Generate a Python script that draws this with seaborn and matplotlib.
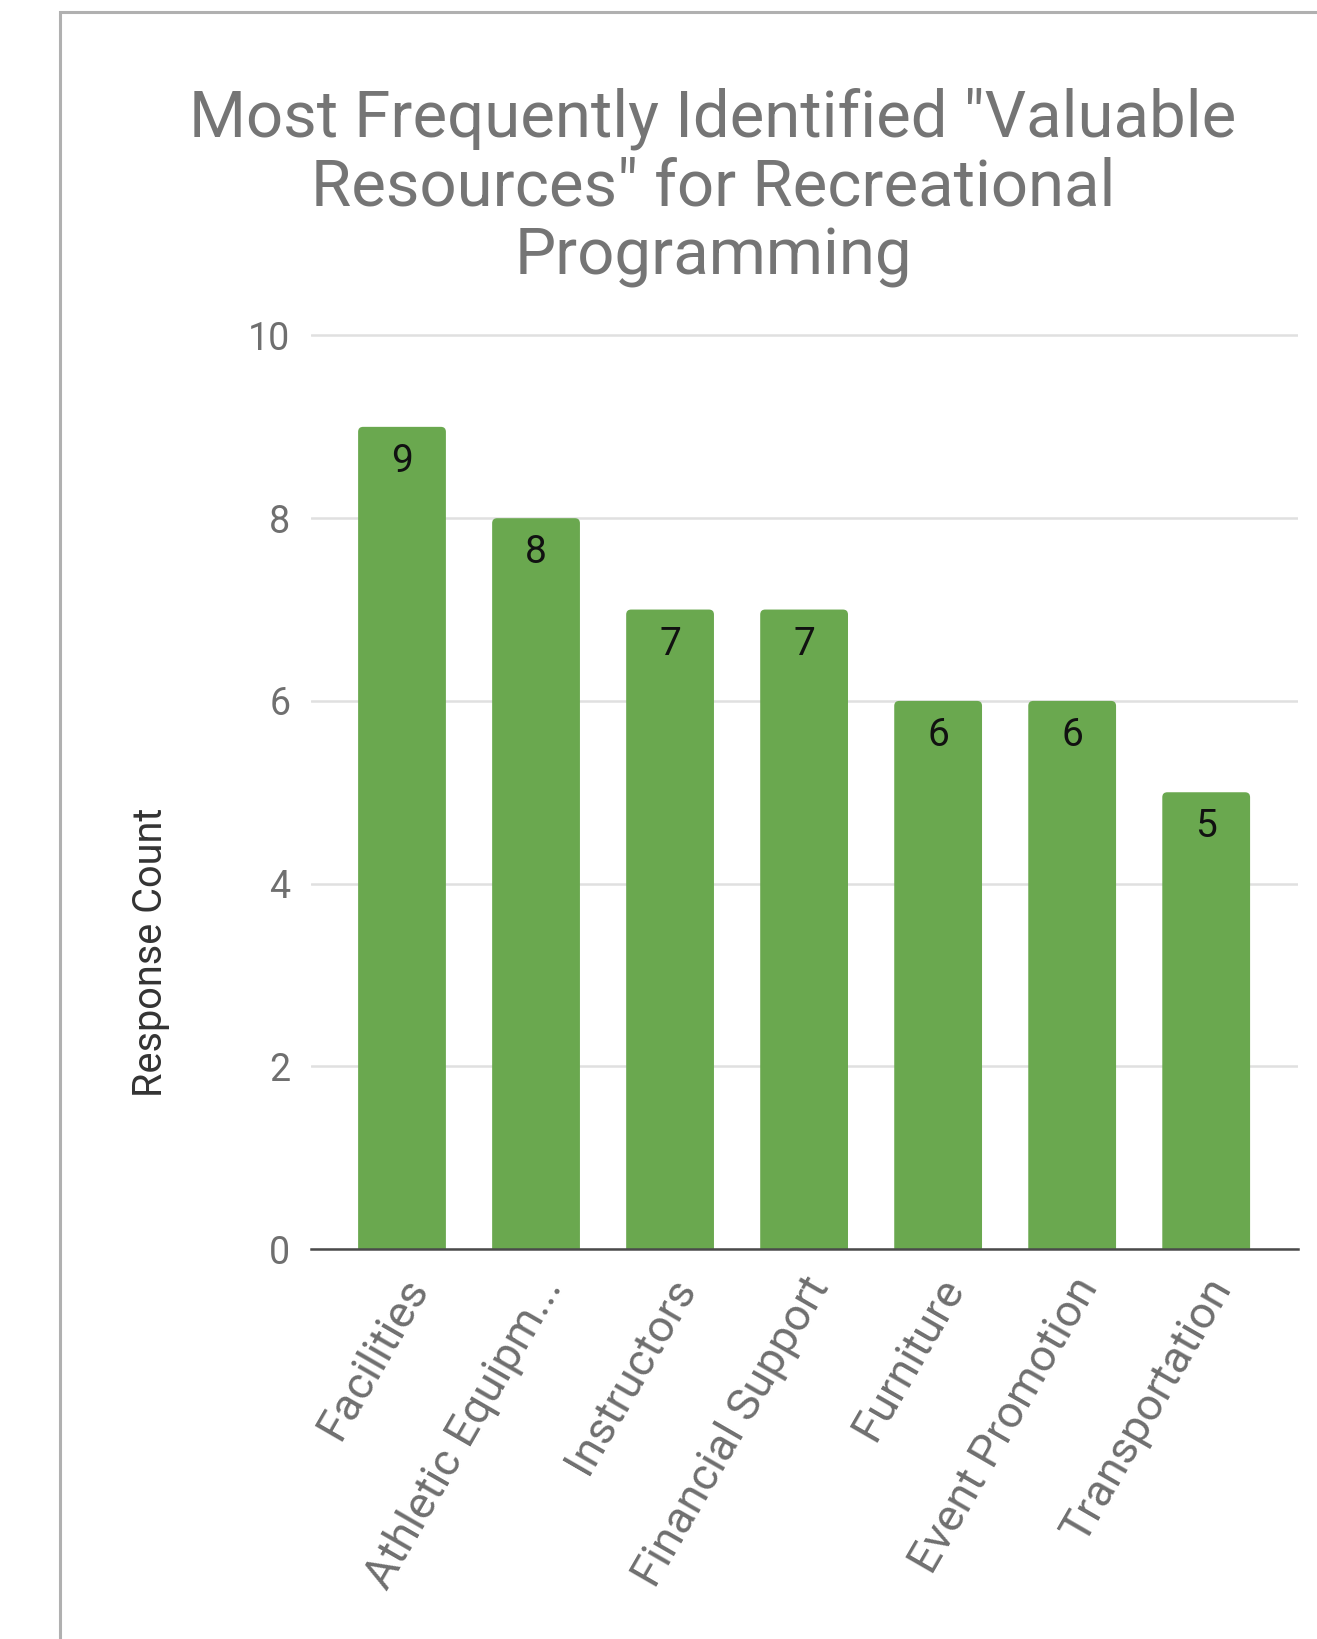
import matplotlib
matplotlib.use("Agg")
import matplotlib.pyplot as plt
import seaborn as sns
import pandas as pd
from matplotlib.transforms import ScaledTranslation
from matplotlib.patches import Rectangle, FancyBboxPatch

categories = ["Facilities", "Athletic Equipm...", "Instructors", "Financial Support",
              "Furniture", "Event Promotion", "Transportation"]
counts = [9, 8, 7, 7, 6, 6, 5]
y_ticks = [0, 2, 4, 6, 8, 10]
title_lines = ['Most Frequently Identified "Valuable',
               'Resources" for Recreational',
               'Programming']
y_label = "Response Count"

sns.set_theme(style="white")
plt.rcParams['font.family'] = ['Roboto', 'DejaVu Sans']

W, H = 1317, 1639
fig = plt.figure(figsize=(W / 100, H / 100), dpi=100)
unit = (1249 - 335.5) / 10.0
ymax = 10.05
ax = fig.add_axes([311 / W, 1 - 1249 / H, (1298 - 311) / W, ymax * unit / H])

df = pd.DataFrame({"Resource": categories, "Count": counts})
sns.barplot(data=df, x="Resource", y="Count", color="#6aa84f", saturation=1,
            width=0.655, ax=ax, zorder=3)

xlim = (-0.679, 6.685)
ax.set_xlim(*xlim)
ax.set_ylim(0, ymax)

# rounded top corners on the seaborn bars
xpx = 987 / (xlim[1] - xlim[0])
r_px = 5.0
for p in ax.patches:
    x0, y0 = p.get_x(), p.get_y()
    w, h = p.get_width(), p.get_height()
    fb = FancyBboxPatch((x0, y0 - 0.3), w, h + 0.3,
                        boxstyle=f"round,pad=0,rounding_size={r_px / xpx}",
                        mutation_aspect=xpx / unit,
                        facecolor=p.get_facecolor(), edgecolor="none",
                        zorder=3, clip_on=True)
    ax.add_patch(fb)
    p.set_visible(False)

ax.set_yticks(y_ticks)
ax.set_yticklabels([str(t) for t in y_ticks])
ax.yaxis.grid(True, color="#e0e0e0", lw=1.8)
ax.xaxis.grid(False)
ax.set_axisbelow(True)
for s in ["top", "right", "left"]:
    ax.spines[s].set_visible(False)
ax.spines["bottom"].set_color("#4a4a4a")
ax.spines["bottom"].set_linewidth(1.8)
ax.spines["bottom"].set_zorder(4)

ax.tick_params(axis="y", length=0, pad=15, labelsize=27, labelcolor="#6f6f6f")
ax.tick_params(axis="x", length=0, pad=23, labelsize=32.5, labelcolor="#6f6f6f")
off = ScaledTranslation(0.16, 0, fig.dpi_scale_trans)
for lab in ax.get_xticklabels():
    lab.set_rotation(60)
    lab.set_ha("right")
    lab.set_va("center")
    lab.set_rotation_mode("anchor")
    lab.set_transform(lab.get_transform() + off)

ax.set_xlabel("")
ax.set_ylabel(y_label, fontsize=28.5, color="#333333")
ax.yaxis.label.set_va("center")
ax.yaxis.set_label_coords((151 - 311) / 987, (1249 - 952) / (ymax * unit))

bars = ax.containers[0]
texts = ax.bar_label(bars, labels=[str(v) for v in counts],
                     padding=-25, fontsize=28, color="#111111")
for t in texts:
    t.set_va("center")
    t.set_zorder(5)

for line, base in zip(title_lines, [136, 206, 275]):
    fig.text(713 / W, 1 - base / H, line, ha="center", va="baseline",
             fontsize=47, color="#757575")

fig.add_artist(Rectangle((60 / W, -0.5), 2.0, (1 - 12 / H) + 0.5,
                         transform=fig.transFigure, fill=False,
                         edgecolor="#b0b0b0", lw=2.2))

fig.savefig("out.png", dpi=100)
